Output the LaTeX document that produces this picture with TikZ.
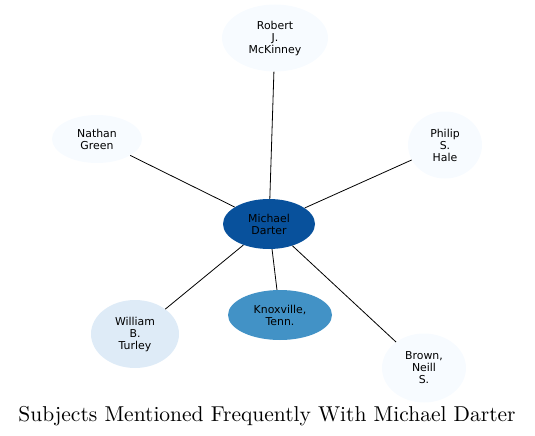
\documentclass[tikz,border=0pt]{standalone}
\usepackage{fontspec}
\newfontfamily\nodefont{DejaVu Sans}
\newfontfamily\titlefont{lmroman10-regular.otf}
\usetikzlibrary{shapes.geometric}
\definecolor{c0}{HTML}{F7FBFF}
\definecolor{c1}{HTML}{DEEBF7}
\definecolor{c2}{HTML}{4292C6}
\definecolor{c3}{HTML}{08519C}
\begin{document}
\begin{tikzpicture}[x=1pt,y=-1pt,
  ent/.style={ellipse,inner sep=0pt,align=center,
    font=\nodefont\fontsize{10.9}{12}\selectfont,text=black},
  link/.style={draw=black,line width=0.8pt}]
\useasboundingbox (0,0) rectangle (535,436);
\node[ent,fill=c3,minimum width=92,minimum height=50] (md) at (269,224) {Michael\\Darter};
\node[ent,fill=c0,minimum width=106,minimum height=67] (rm) at (275,38) {Robert\\J.\\McKinney};
\node[ent,fill=c0,minimum width=90,minimum height=48] (ng) at (97,139) {Nathan\\Green};
\node[ent,fill=c0,minimum width=74,minimum height=67] (ph) at (445,145) {Philip\\S.\\Hale};
\node[ent,fill=c1,minimum width=88,minimum height=68] (wt) at (135,334) {William\\B.\\Turley};
\node[ent,fill=c2,minimum width=104,minimum height=50] (kt) at (280,315) {Knoxville,\\Tenn.};
\node[ent,fill=c0,minimum width=84,minimum height=69] (bn) at (424,368) {Brown,\\Neill\\S.};
\draw[link] (md) -- (rm);
\draw[link] (md) -- (ng);
\draw[link] (md) -- (ph);
\draw[link] (md) -- (wt);
\draw[link] (md) -- (kt);
\draw[link] (md) -- (bn);
\node[anchor=base,font=\titlefont\fontsize{21.5}{26}\selectfont,inner sep=0pt] (title) at (267,421) {Subjects Mentioned Frequently With Michael Darter};
\end{tikzpicture}
\end{document}
